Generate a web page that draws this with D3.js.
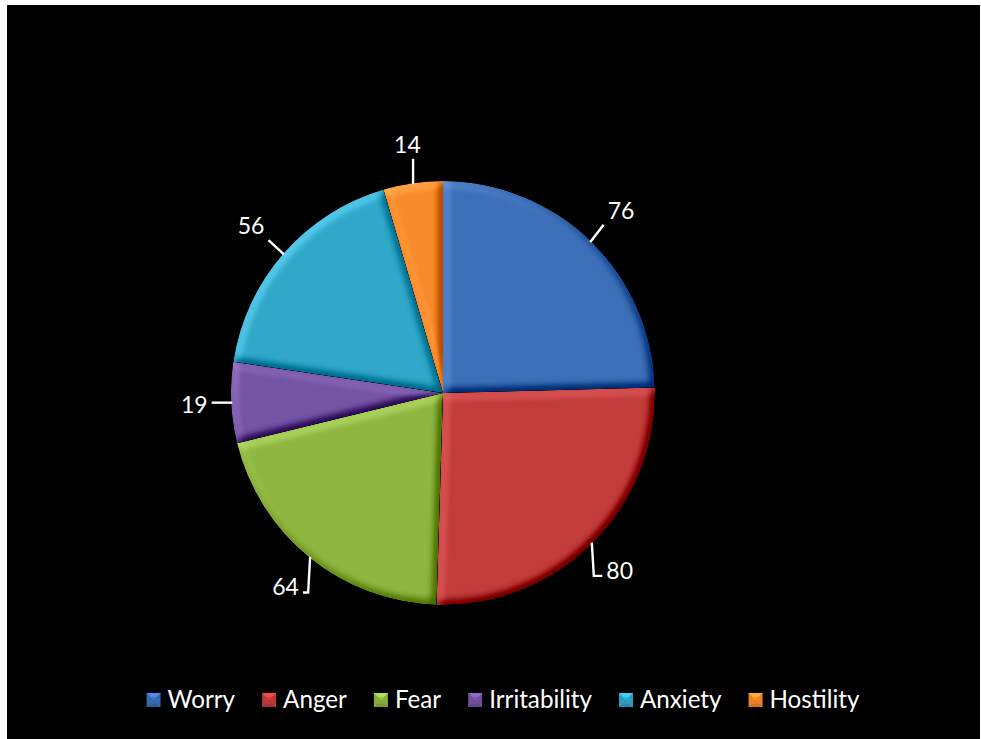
<!DOCTYPE html>
<html>
<head>
<meta charset="utf-8">
<script src="https://cdn.jsdelivr.net/npm/d3@7"></script>
<style>
  html, body { margin: 0; padding: 0; background: #ffffff; }
  svg { display: block; }
  text { font-family: Lato, "Open Sans", sans-serif; fill: #ffffff; }
</style>
</head>
<body>
<svg id="chart" width="981" height="739"></svg>
<script>
// Emotion counts shown in the pie
const categories = ["Worry", "Anger", "Fear", "Irritability", "Anxiety", "Hostility"];
const values = [76, 80, 64, 19, 56, 14];
const colors = ["#3b6cb4", "#bd3a3a", "#8ab13e", "#7352a0", "#30a2c4", "#f0862a"];

const W = 981, H = 739;
const cx = 443, cy = 393, R = 212;

const svg = d3.select("#chart");
const defs = svg.append("defs");

// Black chart area
svg.append("rect").attr("x", 7).attr("y", 5).attr("width", 973).attr("height", 740).attr("fill", "#000");

// Bevel: blurred alpha as a height map, lit from the top-left, added on top of the fill
const bevel = defs.append("filter").attr("id", "bevel")
  .attr("x", "-5%").attr("y", "-5%").attr("width", "110%").attr("height", "110%")
  .attr("color-interpolation-filters", "sRGB");
bevel.append("feGaussianBlur").attr("in", "SourceAlpha").attr("stdDeviation", 4.2).attr("result", "blur");
const lightEl = bevel.append("feDiffuseLighting").attr("in", "blur").attr("surfaceScale", 6)
  .attr("diffuseConstant", 1).attr("lighting-color", "#fff").attr("result", "light");
lightEl.append("feDistantLight").attr("azimuth", 225).attr("elevation", 45);
bevel.append("feComposite").attr("in", "SourceGraphic").attr("in2", "light").attr("operator", "arithmetic")
  .attr("k1", 0).attr("k2", 1).attr("k3", 0.42).attr("k4", -0.297).attr("result", "lit");
bevel.append("feComposite").attr("in", "lit").attr("in2", "SourceAlpha").attr("operator", "in");

// Per-slice vertical shading
colors.forEach((c, i) => {
  const g = defs.append("linearGradient").attr("id", "grad" + i)
    .attr("gradientUnits", "userSpaceOnUse")
    .attr("x1", cx).attr("y1", cy - R).attr("x2", cx).attr("y2", cy + R);
  g.append("stop").attr("offset", "0%").attr("stop-color", d3.color(c).brighter(0.08));
  g.append("stop").attr("offset", "100%").attr("stop-color", d3.color(c).darker(0.22));
});

const pie = d3.pie().sort(null).value(d => d);
const arcs = pie(values);
const arc = d3.arc().innerRadius(0).outerRadius(R);

const gPie = svg.append("g").attr("transform", `translate(${cx},${cy})`);
gPie.selectAll("path.slice").data(arcs).join("path")
  .attr("class", "slice")
  .attr("d", arc)
  .attr("fill", (d, i) => `url(#grad${i})`)
  .attr("filter", "url(#bevel)");

// Data labels placed outside each slice, with leader lines
const labelSize = 23;
const gLab = svg.append("g");
const D = R + 23; // distance from centre to the nearest edge of each label box

arcs.forEach((d, i) => {
  const mid = (d.startAngle + d.endAngle) / 2;
  const ux = Math.sin(mid), uy = -Math.cos(mid);
  const t = gLab.append("text").attr("font-size", labelSize).attr("text-anchor", "middle")
    .text(values[i]);
  const tw = t.node().getComputedTextLength();
  const th = labelSize * 0.72;
  const hw = tw / 2, hTop = th / 2, hBot = th / 2 + 6; // box includes room below the digits
  // push the box outward until its nearest point reaches distance D
  const nearDist = (s) => {
    const bx = cx + ux * s, by = cy + uy * s;
    const nx = Math.max(bx - hw, Math.min(cx, bx + hw));
    const ny = Math.max(by - hTop, Math.min(cy, by + hBot));
    return Math.hypot(nx - cx, ny - cy);
  };
  let s = R;
  while (nearDist(s) < D) s += 0.5;
  const bx = cx + ux * s, by = cy + uy * s;
  t.attr("x", bx).attr("y", by + th / 2);

  // leader line
  const px = cx + ux * (R - 1), py = cy + uy * (R - 1);
  const mx = 4, my = 4;
  const left = bx - hw - mx, right = bx + hw + mx, top = by - th / 2 - my, bottom = by + th / 2 + my + 2;
  let pts;
  const lower = mid > Math.PI / 2 && mid < 3 * Math.PI / 2;
  if (lower && py < top && (px < left || px > right)) {
    const ey = by + th / 2 - 3;
    const ex = px < left ? left : right;
    pts = [[px, py], [px + (px < left ? 2 : -2), ey], [ex, ey]];
  } else {
    const qx = Math.max(left, Math.min(px, right));
    const qy = Math.max(top, Math.min(py, bottom));
    pts = [[px, py], [qx, qy]];
  }
  gLab.append("path").attr("d", d3.line()(pts))
    .attr("fill", "none").attr("stroke", "#fff").attr("stroke-width", 2.4);
});

// Legend
const gLeg = svg.append("g");
const markerSize = 14, markerGap = 7, itemGap = 27;
let legendFont = 24;
// fit the legend text to the available width
const probe = gLeg.append("text").attr("font-size", legendFont);
let total = 0;
categories.forEach(c => { probe.text(c); total += probe.node().getComputedTextLength(); });
probe.remove();
legendFont = legendFont * 452 / total;

const items = categories.map((c, i) => {
  const t = gLeg.append("text").attr("font-size", legendFont).text(c);
  return { t, w: t.node().getComputedTextLength(), color: colors[i] };
});
const legendWidth = d3.sum(items, d => markerSize + markerGap + d.w) + itemGap * (items.length - 1);
let lx = 503 - legendWidth / 2;
const ly = 700;
items.forEach(it => {
  const m = gLeg.append("g").attr("transform", `translate(${lx},${ly - markerSize / 2})`);
  const c = d3.color(it.color);
  const s = markerSize, h = s / 2;
  m.append("rect").attr("width", s).attr("height", s).attr("fill", c.darker(0.1));
  m.append("path").attr("d", `M0,0L${s},0L${h},${h}Z`).attr("fill", c.brighter(0.7));
  m.append("path").attr("d", `M0,${s}L${s},${s}L${h},${h}Z`).attr("fill", c.darker(0.4));
  m.append("rect").attr("x", 3).attr("y", 4).attr("width", s - 6).attr("height", s - 7).attr("fill", c).attr("opacity", 0.6);
  it.t.attr("x", lx + markerSize + markerGap).attr("y", ly + 8);
  lx += markerSize + markerGap + it.w + itemGap;
});
</script>
</body>
</html>
